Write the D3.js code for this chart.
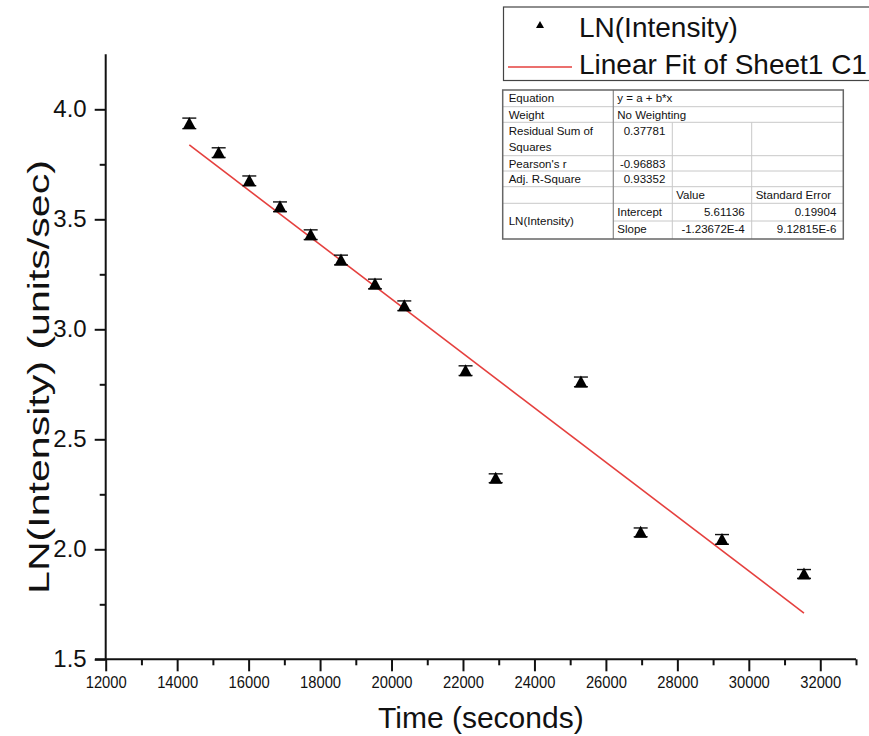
<!DOCTYPE html>
<html>
<head>
<meta charset="utf-8">
<script src="https://cdn.jsdelivr.net/npm/d3@7"></script>
<style>
  html, body { margin: 0; padding: 0; background: #fff; }
  svg { display: block; font-family: Arial, "Liberation Sans", sans-serif; }
</style>
</head>
<body>
<svg id="chart" width="869" height="736"></svg>
<script>
// Measured decay data: time (s) and natural log of intensity
const timeSec = [14340, 15162, 16019, 16878, 17737, 18585, 19537, 20357, 22072, 22915, 25301, 26973, 29249, 31544];
const lnIntensity = [3.936, 3.803, 3.675, 3.557, 3.430, 3.315, 3.206, 3.107, 2.812, 2.323, 2.761, 2.077, 2.045, 1.888];
const lnError = [0.024, 0.022, 0.022, 0.022, 0.022, 0.022, 0.022, 0.022, 0.022, 0.020, 0.022, 0.020, 0.022, 0.020];

// Linear fit y = a + b*x
const fitIntercept = 5.61136;
const fitSlope = -1.23672e-4;

// Axis ticks
const xMajorTicks = [12000, 14000, 16000, 18000, 20000, 22000, 24000, 26000, 28000, 30000, 32000];
const xMinorTicks = [13000, 15000, 17000, 19000, 21000, 23000, 25000, 27000, 29000, 31000, 33000];
const yMajorTicks = [1.5, 2.0, 2.5, 3.0, 3.5, 4.0];
const yMinorTicks = [1.75, 2.25, 2.75, 3.25, 3.75];

// Fit statistics table rows
const statsRows = [
  ["Equation", "y = a + b*x"],
  ["Weight", "No Weighting"],
  ["Residual Sum of|Squares", "0.37781", "", ""],
  ["Pearson's r", "-0.96883", "", ""],
  ["Adj. R-Square", "0.93352", "", ""],
  ["", "", "Value", "Standard Error"],
  ["LN(Intensity)", "Intercept", "5.61136", "0.19904"],
  ["", "Slope", "-1.23672E-4", "9.12815E-6"]
];

const svg = d3.select("#chart");

const x = d3.scaleLinear().domain([12000, 33000]).range([105.7, 856]);
const y = d3.scaleLinear().domain([1.5, 4.25]).range([659.3, 54.3]);

const axisColor = "#111";

// Bottom axis: minor ticks, then labelled major ticks
const gx = svg.append("g").attr("transform", `translate(0,${y.range()[0]})`);
gx.call(d3.axisBottom(x).tickValues(xMinorTicks).tickSize(6).tickFormat(""))
  .call(g => g.select(".domain").remove());
gx.append("g").call(d3.axisBottom(x).tickValues(xMajorTicks).tickSize(12).tickPadding(4).tickFormat(d3.format("d")))
  .call(g => g.select(".domain").remove())
  .call(g => g.selectAll("text")
    .attr("font-size", 17).attr("fill", "#111")
    .attr("dy", "0.72em")
    .attr("textLength", 41).attr("lengthAdjust", "spacingAndGlyphs"));
gx.append("line").attr("x1", 95).attr("x2", x.range()[1]).attr("y1", 0).attr("y2", 0);
gx.selectAll("line").attr("stroke", axisColor).attr("stroke-width", 2);

// Left axis
const gy = svg.append("g").attr("transform", `translate(${x.range()[0]},0)`);
gy.call(d3.axisLeft(y).tickValues(yMinorTicks).tickSize(6).tickFormat(""))
  .call(g => g.select(".domain").remove());
gy.append("g").call(d3.axisLeft(y).tickValues(yMajorTicks).tickSize(11).tickPadding(8).tickFormat(d3.format(".1f")))
  .call(g => g.select(".domain").remove())
  .call(g => g.selectAll("text").attr("font-size", 24).attr("fill", "#111"));
gy.append("line").attr("x1", 0).attr("x2", 0).attr("y1", y.range()[1]).attr("y2", y.range()[0]);
gy.selectAll("line").attr("stroke", axisColor).attr("stroke-width", 2);

// Axis titles
svg.append("text")
  .attr("x", (x.range()[0] + x.range()[1]) / 2).attr("y", 728)
  .attr("text-anchor", "middle").attr("font-size", 30).attr("fill", "#111")
  .text("Time (seconds)");
// vertical title, glyphs elongated along the reading direction
svg.append("text")
  .attr("transform", `translate(49,377) rotate(-90) scale(1.37,1)`)
  .attr("text-anchor", "middle").attr("font-size", 30).attr("fill", "#111")
  .text("LN(Intensity) (units/sec)");

// Fit line across the data range
const fitX = d3.extent(timeSec);
svg.append("line")
  .attr("x1", x(fitX[0])).attr("y1", y(fitIntercept + fitSlope * fitX[0]))
  .attr("x2", x(fitX[1])).attr("y2", y(fitIntercept + fitSlope * fitX[1]))
  .attr("stroke", "#e5403e").attr("stroke-width", 1.6);

// Data points with error bars
const pts = timeSec.map((t, i) => ({ t, v: lnIntensity[i], e: lnError[i] }));
const pg = svg.append("g").selectAll("g").data(pts).join("g")
  .attr("transform", d => `translate(${x(d.t)},${y(d.v)})`);
pg.append("line")
  .attr("x1", 0).attr("x2", 0)
  .attr("y1", d => y(d.v + d.e) - y(d.v)).attr("y2", d => y(d.v - d.e) - y(d.v))
  .attr("stroke", "#111").attr("stroke-width", 1.4);
pg.each(function(d) {
  const g = d3.select(this);
  [d.v + d.e, d.v - d.e].forEach(v => {
    g.append("line").attr("x1", -7).attr("x2", 7)
      .attr("y1", y(v) - y(d.v)).attr("y2", y(v) - y(d.v))
      .attr("stroke", "#111").attr("stroke-width", 1.4);
  });
});
pg.append("path").attr("d", "M0,-6.5L6.5,5.5L-6.5,5.5Z").attr("fill", "#000");

// Legend
const lg = svg.append("g");
lg.append("rect").attr("x", 503.5).attr("y", 7).attr("width", 400).attr("height", 73.5)
  .attr("fill", "#fff").attr("stroke", "#444").attr("stroke-width", 1.2);
lg.append("path").attr("d", "M540,21L544,28L536,28Z").attr("fill", "#000");
lg.append("text").attr("x", 579).attr("y", 36.5).attr("font-size", 28).attr("fill", "#111").text("LN(Intensity)");
lg.append("line").attr("x1", 508).attr("x2", 572).attr("y1", 67).attr("y2", 67)
  .attr("stroke", "#e5403e").attr("stroke-width", 1.4);
lg.append("text").attr("x", 579).attr("y", 74).attr("font-size", 28).attr("fill", "#111").text("Linear Fit of Sheet1 C1");

// Statistics table
const colX = [502.7, 613.3, 672.3, 751.7, 843.3];
const rowY = [90, 106.7, 122.3, 155.7, 171, 186.7, 203.3, 221, 239];
const tb = svg.append("g").attr("font-size", 11.5).attr("fill", "#111");
tb.append("rect").attr("x", colX[0]).attr("y", rowY[0]).attr("width", colX[4] - colX[0]).attr("height", rowY[8] - rowY[0])
  .attr("fill", "#fff");
const grid = "#c8c8c8";
// horizontal rules
rowY.slice(1, 8).forEach((ry, i) => {
  const r = i + 1;
  const x0 = (r === 7) ? colX[1] : colX[0];
  tb.append("line").attr("x1", x0).attr("x2", colX[4]).attr("y1", ry).attr("y2", ry).attr("stroke", grid).attr("stroke-width", 1);
});
// vertical rules for rows with separate columns
[2, 3].forEach(c => {
  tb.append("line").attr("x1", colX[c]).attr("x2", colX[c]).attr("y1", rowY[2]).attr("y2", rowY[8]).attr("stroke", grid).attr("stroke-width", 1);
});
tb.append("line").attr("x1", colX[1]).attr("x2", colX[1]).attr("y1", rowY[0]).attr("y2", rowY[8]).attr("stroke", "#888").attr("stroke-width", 1.2);
tb.append("rect").attr("x", colX[0]).attr("y", rowY[0]).attr("width", colX[4] - colX[0]).attr("height", rowY[8] - rowY[0])
  .attr("fill", "none").attr("stroke", "#666").attr("stroke-width", 1.5);

const pad = 4;
statsRows.forEach((row, r) => {
  const top = rowY[r];
  const base = top + 12.3;
  if (row[0]) {
    const lines = row[0].split("|");
    let ly = base;
    if (r === 6) ly = (rowY[6] + rowY[8]) / 2 + 4;
    lines.forEach((ln, k) => {
      tb.append("text").attr("x", colX[0] + pad + 2).attr("y", ly + k * 16).text(ln);
    });
  }
  if (row.length === 2) {
    tb.append("text").attr("x", colX[1] + pad).attr("y", base).text(row[1]);
    return;
  }
  if (r <= 4) {
    tb.append("text").attr("x", colX[2] - 7).attr("y", base).attr("text-anchor", "end").text(row[1]);
  } else if (r === 5) {
    tb.append("text").attr("x", colX[2] + pad).attr("y", base).text(row[2]);
    tb.append("text").attr("x", colX[3] + pad).attr("y", base).text(row[3]);
  } else {
    tb.append("text").attr("x", colX[1] + pad).attr("y", base).text(row[1]);
    tb.append("text").attr("x", colX[3] - 7).attr("y", base).attr("text-anchor", "end").text(row[2]);
    tb.append("text").attr("x", colX[4] - 7).attr("y", base).attr("text-anchor", "end").text(row[3]);
  }
});
</script>
</body>
</html>
